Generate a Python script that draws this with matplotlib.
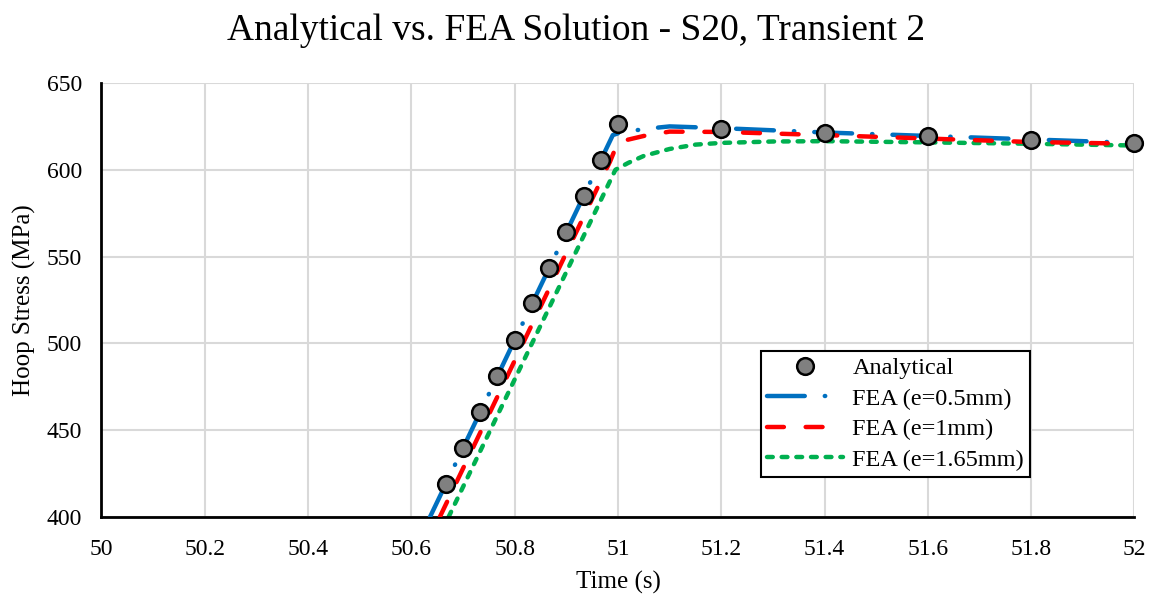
import matplotlib
matplotlib.use("Agg")
import matplotlib.pyplot as plt

# Analytical solution points
t_analytical = [50.6667, 50.7, 50.7333, 50.7667, 50.8, 50.8333, 50.8667, 50.9,
                50.9333, 50.9667, 51.0, 51.2, 51.4, 51.6, 51.8, 52.0]
s_analytical = [419, 440, 460.5, 481, 502, 523, 543.5, 564, 585, 605.5, 626.4,
                623.6, 621.4, 619.3, 617.4, 615.5]

# FEA, e = 0.5 mm
t_fea05 = [50.636, 50.99, 51.0, 51.05, 51.1, 51.2, 51.4, 51.6, 51.8, 52.0]
s_fea05 = [400, 620, 621, 623.5, 625, 624, 621.5, 619.5, 617.5, 615.5]

# FEA, e = 1 mm
t_fea1 = [50.655, 50.985, 51.0, 51.05, 51.1, 51.2, 51.4, 51.6, 51.8, 52.0]
s_fea1 = [400, 605, 616, 619.5, 622, 621.8, 620, 618, 616, 615]

# FEA, e = 1.65 mm
t_fea165 = [50.672, 50.995, 51.02, 51.05, 51.1, 51.15, 51.2, 51.3, 51.4,
            51.6, 51.8, 52.0]
s_fea165 = [400, 600, 604, 608, 612, 614.5, 615.5, 616.3, 616.5, 615.8, 615, 614]

x_ticks = [50, 50.2, 50.4, 50.6, 50.8, 51, 51.2, 51.4, 51.6, 51.8, 52]
x_labels = ["50", "50.2", "50.4", "50.6", "50.8", "51", "51.2", "51.4", "51.6", "51.8", "52"]
y_ticks = [400, 450, 500, 550, 600, 650]

plt.rcParams["font.family"] = ["Liberation Serif", "DejaVu Serif"]

fig = plt.figure(figsize=(11.52, 5.95), dpi=100)
ax = fig.add_axes([0.0881, 0.1311, 0.8967, 0.7294])

ax.plot(t_fea05, s_fea05, color="#0070C0", lw=3.2, dashes=(8.5, 4.5, 0.1, 4.5),
        solid_capstyle="round", dash_capstyle="round", label="FEA (e=0.5mm)", zorder=3)
ax.plot(t_fea1, s_fea1, color="#FF0000", lw=3.2, dashes=(3.8, 4.9),
        dash_capstyle="round", label="FEA (e=1mm)", zorder=4)
ax.plot(t_fea165, s_fea165, color="#00B050", lw=3.2, dashes=(1.3, 2.0),
        dash_capstyle="round", label="FEA (e=1.65mm)", zorder=2)
ax.plot(t_analytical, s_analytical, linestyle="none", marker="o", markersize=12,
        markerfacecolor="#808080", markeredgecolor="black", markeredgewidth=1.8,
        label="Analytical", zorder=5, clip_on=False)

ax.set_xlim(50, 52)
ax.set_ylim(400, 650)
ax.set_xticks(x_ticks)
ax.set_xticklabels(x_labels)
ax.set_yticks(y_ticks)
ax.tick_params(axis="x", labelsize=17, length=0, pad=16)
ax.tick_params(axis="y", labelsize=17, length=0, pad=14)
ax.grid(True, color="#d9d9d9", lw=1.5)
ax.set_axisbelow(True)
for side in ["top", "right"]:
    ax.spines[side].set_visible(False)
ax.spines["left"].set_linewidth(2)
ax.spines["bottom"].set_linewidth(2)

ax.set_xlabel("Time (s)", fontsize=18, labelpad=8)
ax.set_ylabel("Hoop Stress (MPa)", fontsize=18, labelpad=8)
fig.text(0.5, 0.948, "Analytical vs. FEA Solution - S20, Transient 2", fontsize=27,
         ha="center", va="center")

handles, labels = ax.get_legend_handles_labels()
order = [3, 0, 1, 2]
leg = ax.legend([handles[i] for i in order], [labels[i] for i in order],
                loc="lower left", bbox_to_anchor=(0.6386, 0.092), fontsize=17.5,
                frameon=True, fancybox=False, edgecolor="black", framealpha=1,
                handlelength=3.1, borderpad=0.25, labelspacing=0.35,
                handletextpad=0.4, borderaxespad=0)
leg.get_frame().set_linewidth(1.5)

fig.savefig("out.png", dpi=100)
